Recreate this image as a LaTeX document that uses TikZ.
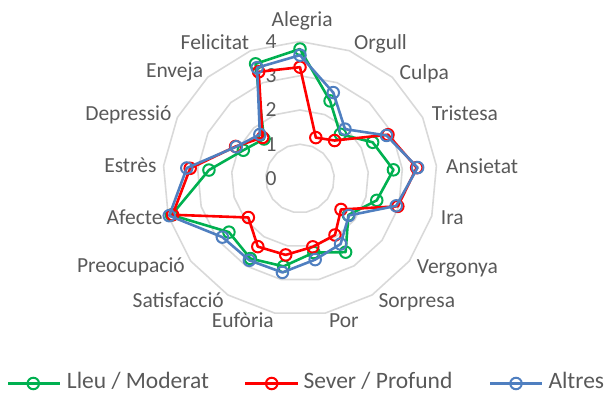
\documentclass[tikz,border=0pt]{standalone}
\usepackage{fontspec}
\setmainfont{Carlito}
\definecolor{txt}{HTML}{595959}
\definecolor{gridc}{HTML}{D9D9D9}
\definecolor{sgreen}{HTML}{00B050}
\definecolor{sred}{HTML}{FF0000}
\definecolor{sblue}{HTML}{4F7FC0}
\begin{document}
\begin{tikzpicture}[x=1pt,y=1pt,
  lbl/.style={text=txt,font=\fontsize{21.5}{24}\selectfont,inner sep=0pt},
  leg/.style={text=txt,font=\fontsize{23.5}{28}\selectfont,inner sep=0pt,anchor=base west},
  gridline/.style={draw=gridc,line width=1.6pt,line join=round},
  ser/.style={line width=2.6pt,line join=round,line cap=round},
  mk/.style={circle,draw=#1,line width=2pt,minimum size=11.5pt,inner sep=0pt}]
\useasboundingbox (0,0) rectangle (605,395);
\coordinate (C) at (300,216.5);
\begin{scope}[shift={(C)}]
  % grid rings
  \foreach \l in {1,...,4} {
    \draw[gridline] (90:\l*34.25) \foreach \k in {1,...,16}{ -- ({90-\k*360/17}:\l*34.25)} -- cycle;
  }
  % value labels
  \foreach \v in {0,...,4} {
    \node[lbl,anchor=base] (val\v) at (-29,{\v*34.25-7}) {\v};
  }
  % series
  \def\gvals{3.78,2.43,1.75,2.37,2.74,2.33,1.77,2.53,2.2,2.61,2.75,2.6,3.9,2.67,1.85,1.56,3.59}
  \def\rvals{3.25,1.28,1.5,2.87,3.42,2.97,1.5,1.94,2.03,2.27,2.34,1.89,3.87,3.22,2.1,1.62,3.34}
  \def\bvals{3.6,2.69,1.95,2.82,3.45,2.92,1.79,2.25,2.41,2.79,2.81,2.84,3.97,3.32,2.08,1.74,3.47}
  \foreach \v [count=\k from 0] in \gvals { \coordinate (g\k) at ({90-\k*360/17}:\v*34.25); }
  \foreach \v [count=\k from 0] in \rvals { \coordinate (r\k) at ({90-\k*360/17}:\v*34.25); }
  \foreach \v [count=\k from 0] in \bvals { \coordinate (b\k) at ({90-\k*360/17}:\v*34.25); }
  \draw[ser,sgreen] (g0) \foreach \k in {1,...,16}{ -- (g\k)} -- cycle;
  \foreach \k in {0,...,16} { \node[mk=sgreen] (gm\k) at (g\k) {}; }
  \draw[ser,sred] (r0) \foreach \k in {1,...,16}{ -- (r\k)} -- cycle;
  \foreach \k in {0,...,16} { \node[mk=sred] (rm\k) at (r\k) {}; }
  \draw[ser,sblue] (b0) \foreach \k in {1,...,16}{ -- (b\k)} -- cycle;
  \foreach \k in {0,...,16} { \node[mk=sblue] (bm\k) at (b\k) {}; }
\end{scope}
% axis labels
\node[lbl,anchor=base] (lAlegria) at (302.2,368.3) {Alegria};
\node[lbl,anchor=base west] (lOrgull) at (354,345) {Orgull};
\node[lbl,anchor=base west] (lCulpa) at (399.5,315.7) {Culpa};
\node[lbl,anchor=base west] (lTristesa) at (431.7,274) {Tristesa};
\node[lbl,anchor=base west] (lAnsietat) at (446,221.7) {Ansietat};
\node[lbl,anchor=base west] (lIra) at (440.7,170) {Ira};
\node[lbl,anchor=base west] (lVergonya) at (416.7,121.5) {Vergonya};
\node[lbl,anchor=base west] (lSorpresa) at (378.3,87.7) {Sorpresa};
\node[lbl,anchor=base west] (lPor) at (329,67.7) {Por};
\node[lbl,anchor=base east] (lEuforia) at (274,67.7) {Eufòria};
\node[lbl,anchor=base east] (lSatisfaccio) at (224,87.7) {Satisfacció};
\node[lbl,anchor=base east] (lPreocupacio) at (185,122.3) {Preocupació};
\node[lbl,anchor=base east] (lAfecte) at (162.7,170) {Afecte};
\node[lbl,anchor=base east] (lEstres) at (156.7,222.3) {Estrès};
\node[lbl,anchor=base east] (lDepressio) at (171.7,274) {Depressió};
\node[lbl,anchor=base east] (lEnveja) at (203.3,317.7) {Enveja};
\node[lbl,anchor=base east] (lFelicitat) at (249.3,345) {Felicitat};
% legend
\coordinate (lg1a) at (8.3,11.5); \coordinate (lg1b) at (60,11.5);
\draw[ser,sgreen,line cap=butt] (lg1a) -- (lg1b);
\node[mk=sgreen] (lgm1) at (33.3,11.5) {};
\node[leg] (lgt1) at (66.7,6.5) {Lleu / Moderat};
\coordinate (lg2a) at (245,11.5); \coordinate (lg2b) at (298.3,11.5);
\draw[ser,sred,line cap=butt] (lg2a) -- (lg2b);
\node[mk=sred] (lgm2) at (271.7,11.5) {};
\node[leg] (lgt2) at (303.3,6.5) {Sever / Profund};
\coordinate (lg3a) at (490,11.5); \coordinate (lg3b) at (541.7,11.5);
\draw[ser,sblue,line cap=butt] (lg3a) -- (lg3b);
\node[mk=sblue] (lgm3) at (516,11.5) {};
\node[leg] (lgt3) at (548.3,6.5) {Altres};
\end{tikzpicture}
\end{document}
